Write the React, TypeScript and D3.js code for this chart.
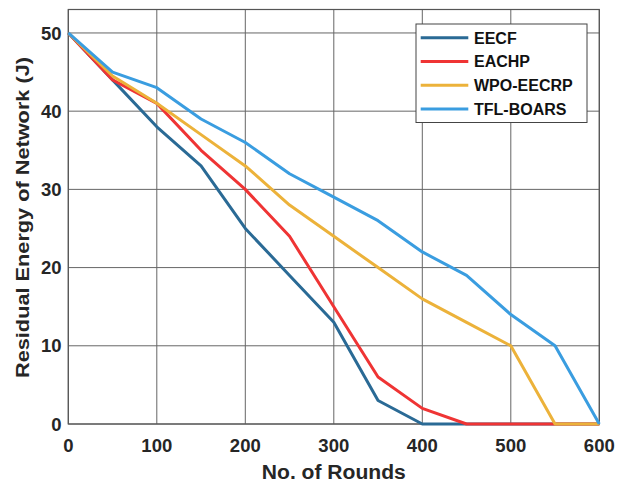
import React from "react";
import * as d3 from "d3";

const rounds = [0, 50, 100, 150, 200, 250, 300, 350, 400, 450, 500, 550, 600];
const seriesNames = ["EECF", "EACHP", "WPO-EECRP", "TFL-BOARS"];
const eecf = [50, 44, 38, 33, 25, 19, 13, 3, 0, 0, 0, 0, 0];
const eachp = [50, 44, 41, 35, 30, 24, 15, 6, 2, 0, 0, 0, 0];
const wpo = [50, 44.5, 41, 37, 33, 28, 24, 20, 16, 13, 10, 0, 0];
const tfl = [50, 45, 43, 39, 36, 32, 29, 26, 22, 19, 14, 10, 0];
const seriesValues = [eecf, eachp, wpo, tfl];
const colors = ["#2a6a95", "#ef3434", "#ecb23a", "#3a9de0"];
const xTicks = [0, 100, 200, 300, 400, 500, 600];
const yTicks = [0, 10, 20, 30, 40, 50];

const W = 618;
const H = 483;
const left = 68.3;
const right = 599.3;
const top = 9.5;
const bottom = 424;
const font = "'Liberation Sans', Arial, Helvetica, sans-serif";

export default function App() {
  const x = d3.scaleLinear().domain([0, 600]).range([left, right]);
  const y = d3.scaleLinear().domain([0, 53]).range([bottom, top]);
  const line = d3
    .line<number>()
    .x((_, i) => x(rounds[i]))
    .y((d) => y(d));

  const legX = 416;
  const legY = 24;
  const legW = 171;
  const legH = 98.5;
  const legRow = 23.7;

  return (
    <svg
      width={W}
      height={H}
      style={{ position: "absolute", left: 0, top: 0, background: "#fff" }}
    >
      <rect x={0} y={0} width={W} height={H} fill="#fff" />
      {/* grid */}
      {xTicks.map((t) => (
        <line
          key={"gx" + t}
          x1={x(t)}
          x2={x(t)}
          y1={top}
          y2={bottom}
          stroke="#666"
          strokeWidth={1}
        />
      ))}
      {yTicks.map((t) => (
        <line
          key={"gy" + t}
          x1={left}
          x2={right}
          y1={y(t)}
          y2={y(t)}
          stroke="#666"
          strokeWidth={1}
        />
      ))}
      <rect
        x={left}
        y={top}
        width={right - left}
        height={bottom - top}
        fill="none"
        stroke="#555"
        strokeWidth={1.2}
      />
      {/* series */}
      {seriesValues.map((vals, si) => (
        <path
          key={seriesNames[si]}
          d={line(vals) || ""}
          fill="none"
          stroke={colors[si]}
          strokeWidth={3}
          strokeLinejoin="round"
        />
      ))}
      {/* tick labels */}
      {xTicks.map((t) => (
        <text
          key={"tx" + t}
          x={x(t)}
          y={451.5}
          textAnchor="middle"
          fontFamily={font}
          fontWeight="bold"
          fontSize={18.5}
          fill="#262626"
        >
          {t}
        </text>
      ))}
      {yTicks.map((t) => (
        <text
          key={"ty" + t}
          x={61.5}
          y={y(t)}
          dy="0.36em"
          textAnchor="end"
          fontFamily={font}
          fontWeight="bold"
          fontSize={18.5}
          fill="#262626"
        >
          {t}
        </text>
      ))}
      {/* axis labels */}
      <text
        x={(left + right) / 2}
        y={479}
        textAnchor="middle"
        fontFamily={font}
        fontWeight="bold"
        fontSize={20}
        fill="#262626"
        textLength={144}
        lengthAdjust="spacingAndGlyphs"
      >
        No. of Rounds
      </text>
      <text
        transform={`translate(28.5, ${(57 + 378) / 2}) rotate(-90)`}
        textAnchor="middle"
        fontFamily={font}
        fontWeight="bold"
        fontSize={19}
        fill="#262626"
        textLength={321}
        lengthAdjust="spacingAndGlyphs"
      >
        Residual Energy of Network (J)
      </text>
      {/* legend */}
      <rect
        x={legX}
        y={legY}
        width={legW}
        height={legH}
        fill="#fff"
        stroke="#444"
        strokeWidth={1}
      />
      {seriesNames.map((n, i) => {
        const cy = legY + 13.8 + i * legRow;
        return (
          <g key={"leg" + n}>
            <line
              x1={420.7}
              x2={468.3}
              y1={cy}
              y2={cy}
              stroke={colors[i]}
              strokeWidth={3}
            />
            <text
              x={474}
              y={cy}
              dy="0.36em"
              fontFamily={font}
              fontWeight="bold"
              fontSize={16}
              fill="#111"
            >
              {n}
            </text>
          </g>
        );
      })}
    </svg>
  );
}
